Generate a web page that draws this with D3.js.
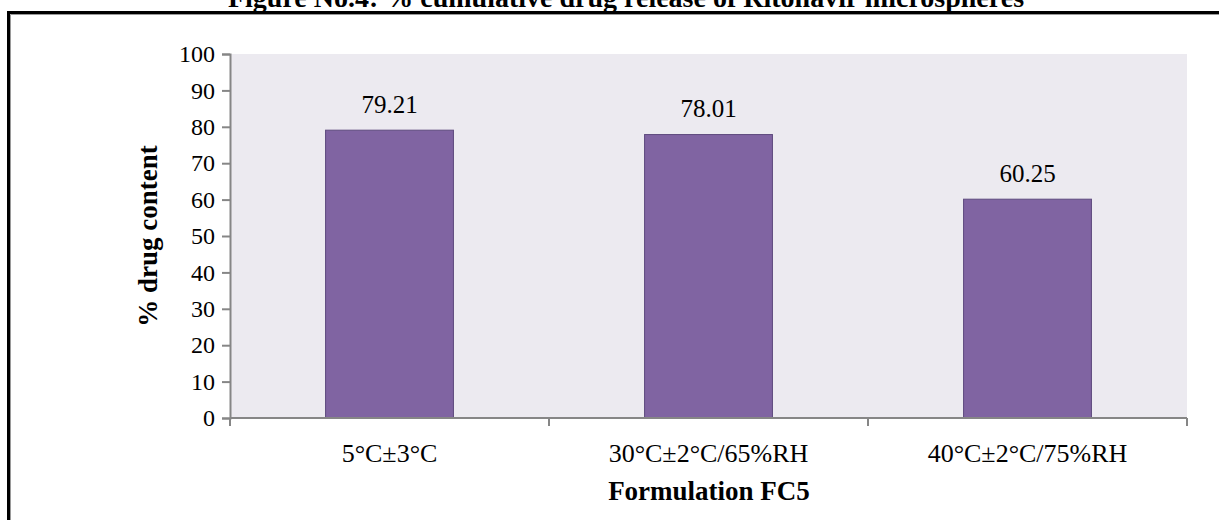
<!DOCTYPE html>
<html>
<head>
<meta charset="utf-8">
<script src="https://cdn.jsdelivr.net/npm/d3@7"></script>
<style>
  html, body { margin: 0; padding: 0; background: #fff; }
  svg { display: block; }
</style>
</head>
<body>
<svg id="chart" width="1219" height="520"></svg>
<script>
// Stability study data, formulation FC5
const conditions = ["5°C±3°C", "30°C±2°C/65%RH", "40°C±2°C/75%RH"];
const drugContent = [79.21, 78.01, 60.25];
const yTicks = [0, 10, 20, 30, 40, 50, 60, 70, 80, 90, 100];

const titleText = "Figure No.4: % cumulative drug release of Ritonavir microspheres";
const yTitle = "% drug content";
const xTitle = "Formulation FC5";

const svg = d3.select("#chart");
const serif = "'Liberation Serif', 'Times New Roman', serif";

const plot = { left: 230, right: 1187, top: 54, bottom: 418 };

const x = d3.scaleBand()
  .domain(conditions)
  .range([plot.left, plot.right])
  .paddingInner(0.596)
  .paddingOuter(0.298);

const xSlots = d3.scaleBand()
  .domain(conditions)
  .range([plot.left, plot.right])
  .padding(0);

const y = d3.scaleLinear().domain([0, 100]).range([plot.bottom, plot.top]);

// Figure title (sits above the frame, partly clipped by the page top)
svg.append("text")
  .attr("x", 626).attr("y", 7)
  .attr("text-anchor", "middle")
  .attr("font-family", serif)
  .attr("font-weight", "bold")
  .attr("font-size", 28)
  .text(titleText);

// Outer frame: black rule with a grey inner shadow
svg.append("path")
  .attr("d", "M8.5,540 V12.5 H1240")
  .attr("fill", "none").attr("stroke", "#000").attr("stroke-width", 3);
svg.append("path")
  .attr("d", "M10.5,540 V14.5 H1240")
  .attr("fill", "none").attr("stroke", "#9a9a9a").attr("stroke-width", 1);

// Plot area background
svg.append("rect")
  .attr("x", plot.left).attr("y", plot.top)
  .attr("width", plot.right - plot.left)
  .attr("height", plot.bottom - plot.top)
  .attr("fill", "#ECEAF0");

// Bars
svg.append("g").selectAll("rect")
  .data(conditions)
  .join("rect")
  .attr("x", d => x(d) + 0.5)
  .attr("y", (d, i) => y(drugContent[i]) + 0.5)
  .attr("width", x.bandwidth() - 1)
  .attr("height", (d, i) => y(0) - y(drugContent[i]) - 0.5)
  .attr("fill", "#8064A2")
  .attr("stroke", "#5E4A7E")
  .attr("stroke-width", 1);

// Value labels
svg.append("g").selectAll("text")
  .data(conditions)
  .join("text")
  .attr("x", d => x(d) + x.bandwidth() / 2)
  .attr("y", (d, i) => y(drugContent[i]) - 17)
  .attr("text-anchor", "middle")
  .attr("font-family", serif)
  .attr("font-size", 25)
  .attr("fill", "#000")
  .text((d, i) => drugContent[i].toFixed(2));

// Y axis
const yAxis = svg.append("g")
  .attr("transform", `translate(${plot.left},0)`)
  .call(d3.axisLeft(y).tickValues(yTicks).tickSize(8).tickPadding(7));
yAxis.select(".domain").attr("stroke", "#868686").attr("stroke-width", 2);
yAxis.selectAll(".tick line").attr("stroke", "#868686").attr("stroke-width", 2);
yAxis.selectAll(".tick text")
  .attr("font-family", serif)
  .attr("font-size", 24)
  .attr("fill", "#000");

// X axis with ticks on category boundaries
const xAxisG = svg.append("g");
xAxisG.append("line")
  .attr("x1", plot.left).attr("x2", plot.right)
  .attr("y1", plot.bottom).attr("y2", plot.bottom)
  .attr("stroke", "#868686").attr("stroke-width", 2);
const boundaries = conditions.map(c => xSlots(c)).concat([plot.right]);
xAxisG.selectAll("line.tk")
  .data(boundaries)
  .join("line")
  .attr("class", "tk")
  .attr("x1", d => d).attr("x2", d => d)
  .attr("y1", plot.bottom).attr("y2", plot.bottom + 8)
  .attr("stroke", "#868686").attr("stroke-width", 2);
xAxisG.selectAll("text")
  .data(conditions)
  .join("text")
  .attr("x", d => xSlots(d) + xSlots.bandwidth() / 2)
  .attr("y", 462)
  .attr("text-anchor", "middle")
  .attr("font-family", serif)
  .attr("font-size", 26)
  .attr("fill", "#000")
  .text(d => d);

// Axis titles
svg.append("text")
  .attr("x", (plot.left + plot.right) / 2 + 0.5)
  .attr("y", 500)
  .attr("text-anchor", "middle")
  .attr("font-family", serif)
  .attr("font-weight", "bold")
  .attr("font-size", 27)
  .text(xTitle);

svg.append("text")
  .attr("transform", `translate(157,${(plot.top + plot.bottom) / 2}) rotate(-90)`)
  .attr("text-anchor", "middle")
  .attr("font-family", serif)
  .attr("font-weight", "bold")
  .attr("font-size", 27)
  .text(yTitle);
</script>
</body>
</html>
